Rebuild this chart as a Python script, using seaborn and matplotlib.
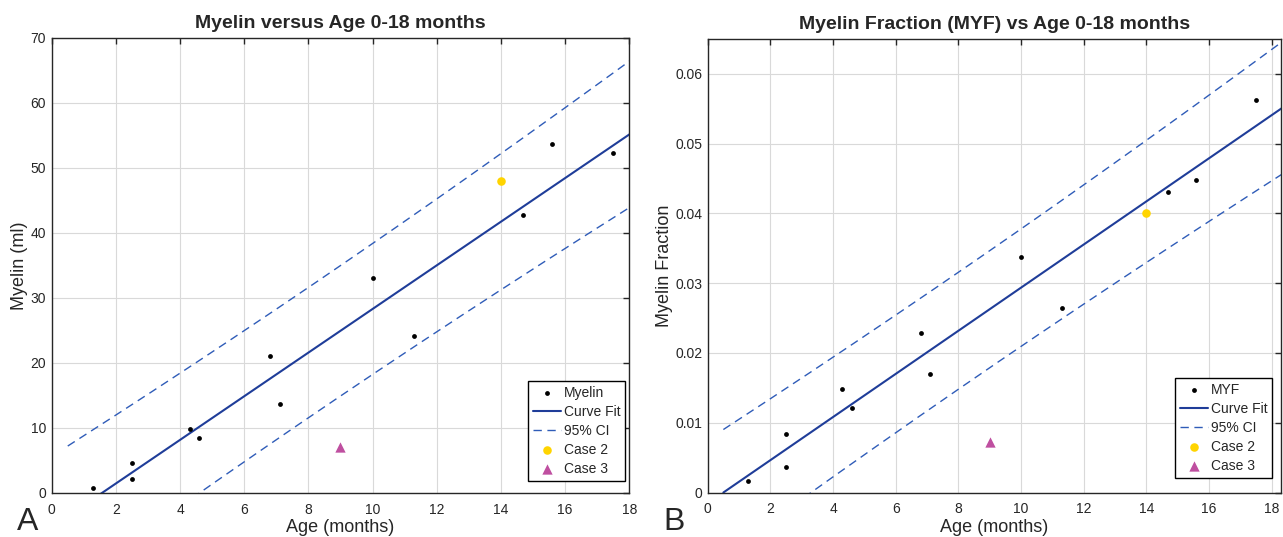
import numpy as np
import pandas as pd
import matplotlib
matplotlib.use("Agg")
import matplotlib.pyplot as plt
import seaborn as sns

# ages (months) of the 12 subjects
age = [1.3, 2.5, 2.5, 4.3, 4.6, 6.8, 7.1, 10.0, 11.3, 14.7, 15.6, 17.5]
# myelin volume (ml)
myelin = [0.8, 4.6, 2.1, 9.9, 8.5, 21.1, 13.7, 33.0, 24.1, 42.8, 53.6, 52.2]
# myelin fraction
myf = [0.0016, 0.0084, 0.0036, 0.0148, 0.0121, 0.0229, 0.0170, 0.0338, 0.0265, 0.0431, 0.0448, 0.0563]

case2_age = [14.0]
case2_myelin = [48.0]
case2_myf = [0.0400]
case3_age = [9.0]
case3_myelin = [7.0]
case3_myf = [0.0072]

fit_range = [0.5, 18.5]

sns.set_style("white")
plt.rcParams['font.family'] = ['Liberation Sans', 'DejaVu Sans']

AX_COL = '#262626'
FIT_COL = '#1f3d99'
CI_COL = '#2f5cb8'
YELLOW = '#ffd400'
MAGENTA = '#bf4fa0'


def fit_with_pi(x, y, xs):
    # linear fit plus 95% prediction bounds
    x = np.asarray(x)
    y = np.asarray(y)
    n = len(x)
    b, a = np.polyfit(x, y, 1)
    resid = y - (a + b * x)
    s = np.sqrt(np.sum(resid ** 2) / (n - 2))
    sxx = np.sum((x - x.mean()) ** 2)
    t = 2.228  # t(0.975, 10)
    yhat = a + b * xs
    half = t * s * np.sqrt(1 + 1 / n + (xs - x.mean()) ** 2 / sxx)
    return yhat, yhat - half, yhat + half


def panel(ax, y, c2, c3, name, title, ylabel, ylim, xlim, yticks, leg_anchor):
    xs = np.linspace(fit_range[0], fit_range[1], 200)
    yhat, lo, hi = fit_with_pi(age, y, xs)
    df = pd.DataFrame({'x': xs, 'fit': yhat, 'lo': lo, 'hi': hi})

    sns.scatterplot(x=age, y=y, ax=ax, color='black', s=12, linewidth=0,
                    label=name, zorder=5)
    sns.lineplot(data=df, x='x', y='fit', ax=ax, color=FIT_COL, lw=1.5,
                 label='Curve Fit')
    sns.lineplot(data=df, x='x', y='hi', ax=ax, color=CI_COL, lw=1.0,
                 dashes=(6, 4), label='95% CI')
    sns.lineplot(data=df, x='x', y='lo', ax=ax, color=CI_COL, lw=1.0,
                 dashes=(6, 4), label='_nolegend_')
    sns.scatterplot(x=case2_age, y=c2, ax=ax, color=YELLOW, s=38, linewidth=0,
                    label='Case 2', zorder=6)
    sns.scatterplot(x=case3_age, y=c3, ax=ax, color=MAGENTA, marker='^', s=55,
                    linewidth=0, label='Case 3', zorder=6)

    ax.set_xlim(*xlim)
    ax.set_ylim(*ylim)
    ax.set_xticks(np.arange(0, 19, 2))
    ax.set_yticks(yticks)
    ax.grid(True, color='#d9d9d9', lw=0.8)
    ax.set_axisbelow(True)
    for sp in ax.spines.values():
        sp.set_color(AX_COL)
        sp.set_linewidth(1.0)
    ax.tick_params(axis='both', direction='in', length=4, width=1.0,
                   top=True, right=True, colors=AX_COL, labelsize=10)
    ax.tick_params(axis='x', pad=7)
    ax.tick_params(axis='y', pad=4)
    ax.set_title(title, fontsize=14, fontweight='bold', pad=7)
    ax.set_xlabel('Age (months)', fontsize=13, labelpad=2)
    ax.set_ylabel(ylabel, fontsize=13, labelpad=1.5)

    leg = ax.legend(loc='lower right', bbox_to_anchor=leg_anchor, borderaxespad=0,
                    fontsize=10, frameon=True, fancybox=False, framealpha=1,
                    edgecolor='black', handlelength=2.0, handletextpad=0.2,
                    labelspacing=0.37, borderpad=0.35)
    leg.get_frame().set_linewidth(1.0)


fig = plt.figure(figsize=(12.83, 5.37), dpi=100)
ax1 = fig.add_axes([51.7 / 1283, 1 - 493 / 537, (629.3 - 51.7) / 1283, (493 - 37.7) / 537])
ax2 = fig.add_axes([707.7 / 1283, 1 - 492.5 / 537, (1281 - 707.7) / 1283, (492.5 - 39) / 537])

panel(ax1, myelin, case2_myelin, case3_myelin, 'Myelin',
      'Myelin versus Age 0-18 months', 'Myelin (ml)',
      (0, 70), (0, 18), np.arange(0, 71, 10), (0.9926, 0.0264))
panel(ax2, myf, case2_myf, case3_myf, 'MYF',
      'Myelin Fraction (MYF) vs Age 0-18 months', 'Myelin Fraction',
      (0, 0.065), (0, 18.3), np.arange(0, 0.061, 0.01), (0.9843, 0.032))
ax2.set_yticklabels(['0', '0.01', '0.02', '0.03', '0.04', '0.05', '0.06'])

fig.text(17 / 1283, 0.5 / 537, 'A', fontsize=23, va='bottom', ha='left')
fig.text(663 / 1283, 0.5 / 537, 'B', fontsize=23, va='bottom', ha='left')

fig.savefig('out.png', dpi=100)
